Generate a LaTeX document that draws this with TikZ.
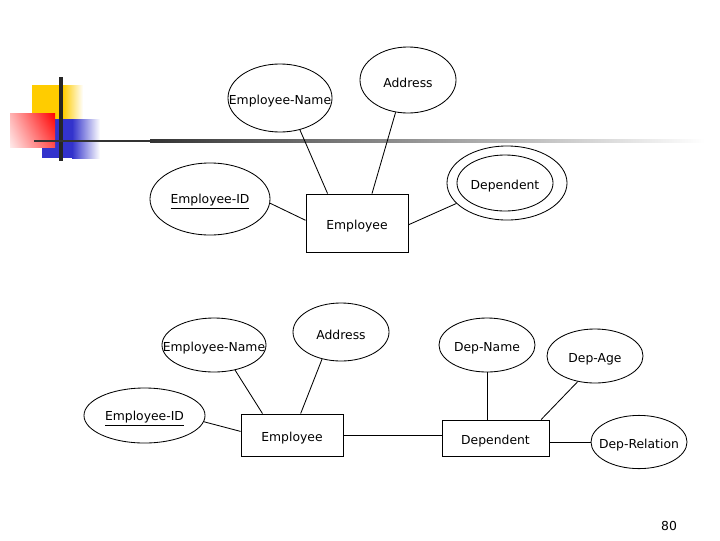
\documentclass[tikz,border=0pt]{standalone}
\usepackage{fontspec}
\setmainfont{DejaVu Sans}
\usetikzlibrary{shapes.geometric, shadings}
\definecolor{yellowsq}{HTML}{FFCC00}
\definecolor{bluesq}{HTML}{3333CC}
\newcommand{\erlabel}[1]{\makebox[0pt]{\raisebox{-2pt}[\height][\depth]{#1}}}

\begin{document}
\begin{tikzpicture}[x=0.025cm, y=-0.025cm, line width=0.6pt,
    font=\fontsize{8.8}{10}\selectfont,
    attr/.style={draw, ellipse, inner sep=0pt},
    ent/.style={draw, rectangle, inner sep=0pt}]
  \useasboundingbox (0,0) rectangle (720,540);

  % slide decoration
  \fill[yellowsq] (32,85) rectangle (63,119);
  \shade[left color=yellowsq, right color=white] (63,85) rectangle (83,119);
  \fill[bluesq] (42,119) rectangle (72,158);
  \shade[left color=bluesq, right color=white] (72,119) rectangle (100,158);
  \shade[upper left=red!30, upper right=red, lower left=red!8, lower right=red!70] (10,113) rectangle (55,147);
  \draw[line width=2.2pt, black!85] (61,77) -- (61,161);
  \fill[black!80] (34,139.6) rectangle (150,142.4);
  \shade[left color=black!80, right color=white] (150,139.6) rectangle (705,142.4);

  % upper diagram
  \node[attr, minimum width=2.6cm, minimum height=1.7cm] (ename) at (280,98) {\erlabel{Employee-Name}};
  \node[attr, minimum width=2.4cm, minimum height=1.65cm] (addr) at (408,80) {\erlabel{Address}};
  \node[attr, minimum width=3cm, minimum height=1.8cm] (eid) at (210,199) {\erlabel{\underline{Employee-ID}}};
  \node[ent, minimum width=2.55cm, minimum height=1.45cm] (emp) at (357,223) {\erlabel{Employee}};
  \node[attr, minimum width=2.4cm, minimum height=1.4cm] (dep) at (505,183) {\erlabel{Dependent}};
  \node[attr, minimum width=3cm, minimum height=1.85cm] (depout) at (507,183) {};

  \draw (ename.-58) -- (emp.135);
  \draw (addr.-111) -- (emp.63);
  \draw (eid.-4) -- (emp.177);
  \draw (emp.-2) -- (depout.-158);

  % lower diagram
  \node[attr, minimum width=2.6cm, minimum height=1.35cm] (ename2) at (214,345) {\erlabel{Employee-Name}};
  \node[attr, minimum width=2.4cm, minimum height=1.45cm] (addr2) at (341,332) {\erlabel{Address}};
  \node[attr, minimum width=3.025cm, minimum height=1.375cm] (eid2) at (144.5,415.5) {\erlabel{\underline{Employee-ID}}};
  \node[ent, minimum width=2.55cm, minimum height=1.05cm] (emp2) at (292,435) {\erlabel{Employee}};
  \node[ent, minimum width=2.675cm, minimum height=0.9cm] (dep2) at (495.5,438) {\erlabel{Dependent}};
  \node[attr, minimum width=2.4cm, minimum height=1.35cm] (dname) at (487,345) {\erlabel{Dep-Name}};
  \node[attr, minimum width=2.4cm, minimum height=1.35cm] (dage) at (595,356) {\erlabel{Dep-Age}};
  \node[attr, minimum width=2.4cm, minimum height=1.33cm] (drel) at (639,442) {\erlabel{Dep-Relation}};

  \draw (ename2.-50) -- (emp2.144);
  \draw (addr2.-125) -- (emp2.68);
  \draw (eid2.-6) -- (emp2.176);
  \draw (emp2.east) -- (emp2.east -| dep2.west);
  \draw (dname.south) -- (dname.south |- dep2.north);
  \draw (dage.-124) -- (dep2.22);
  \draw (drel.west -| dep2.east) -- (drel.west);

  \node (pnum) at (669,523) {\erlabel{80}};
\end{tikzpicture}
\end{document}
